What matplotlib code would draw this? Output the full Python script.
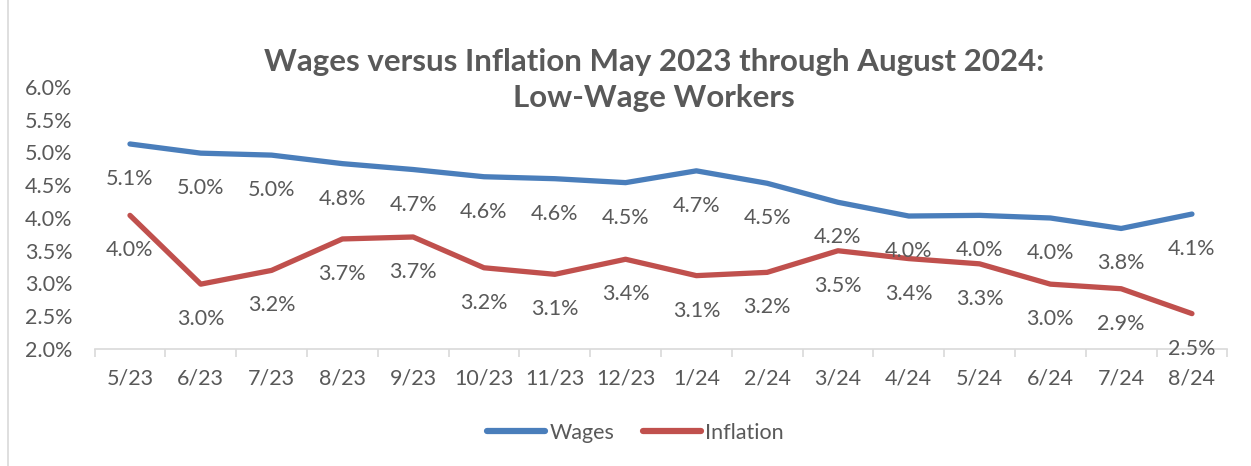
import matplotlib
matplotlib.use("Agg")
import matplotlib.pyplot as plt
from matplotlib.lines import Line2D
import numpy as np

months = ["5/23", "6/23", "7/23", "8/23", "9/23", "10/23", "11/23", "12/23",
          "1/24", "2/24", "3/24", "4/24", "5/24", "6/24", "7/24", "8/24"]
wages = [5.13, 4.99, 4.96, 4.83, 4.74, 4.63, 4.60, 4.54,
         4.72, 4.53, 4.24, 4.03, 4.04, 4.00, 3.84, 4.06]
inflation = [4.04, 2.99, 3.20, 3.68, 3.71, 3.24, 3.14, 3.37,
             3.12, 3.17, 3.50, 3.38, 3.30, 2.99, 2.92, 2.54]

plt.rcParams['font.family'] = ['Lato', 'DejaVu Sans']
text_col = '#595959'
axis_col = '#d9d9d9'
blue = '#4a7ebb'
red = '#c0504d'

fig = plt.figure(figsize=(12.51, 4.66), dpi=100)
ax = fig.add_axes([0.0756, 0.2511, 0.9055, 0.5622])

x = np.arange(len(months))
ax.plot(x, wages, color=blue, linewidth=3.8, solid_capstyle='round', solid_joinstyle='round')
ax.plot(x, inflation, color=red, linewidth=3.8, solid_capstyle='round', solid_joinstyle='round')

# data labels under each point, Excel style
for series in (wages, inflation):
    for xi, v in zip(x, series):
        ax.annotate(f'{v:.1f}%', (xi, v), xytext=(0, -35), textcoords='offset pixels',
                    ha='center', va='center', fontsize=15.5, color=text_col)

ax.set_xlim(-0.5, len(months) - 0.5)
ax.set_ylim(2.0, 6.0)
ax.set_yticks(np.arange(2.0, 6.01, 0.5))
ax.set_yticklabels([f'{t:.1f}%' for t in np.arange(2.0, 6.01, 0.5)])
ax.set_xticks(x)
ax.set_xticklabels(months)
ax.set_xticks(np.arange(-0.5, len(months)), minor=True)
ax.tick_params(axis='x', which='major', length=0, pad=14, labelsize=15.5, labelcolor=text_col)
ax.tick_params(axis='x', which='minor', length=6, color=axis_col, width=1.2)
ax.tick_params(axis='y', length=0, pad=16, labelsize=15.5, labelcolor=text_col)

for s in ('top', 'right', 'left'):
    ax.spines[s].set_visible(False)
ax.spines['bottom'].set_color(axis_col)
ax.spines['bottom'].set_linewidth(1.2)

fig.text(0.523, 0.828, 'Wages versus Inflation May 2023 through August 2024:\nLow-Wage Workers',
         ha='center', va='center', fontsize=22.5, fontweight='bold', color=text_col,
         linespacing=1.32)

handles = [Line2D([0], [0], color=blue, linewidth=4.5, solid_capstyle='round'),
           Line2D([0], [0], color=red, linewidth=4.5, solid_capstyle='round')]
fig.legend(handles, ['Wages', 'Inflation'], loc='center', bbox_to_anchor=(0.508, 0.071),
           ncol=2, frameon=False, fontsize=15.5, labelcolor=text_col,
           handlelength=2.7, handletextpad=0.2, columnspacing=1.3)

# thin frame line on the left edge
fig.add_artist(Line2D([0.0064, 0.0064], [0, 1], color=axis_col, linewidth=1.2,
                      transform=fig.transFigure))

fig.savefig('out.png', dpi=100)
